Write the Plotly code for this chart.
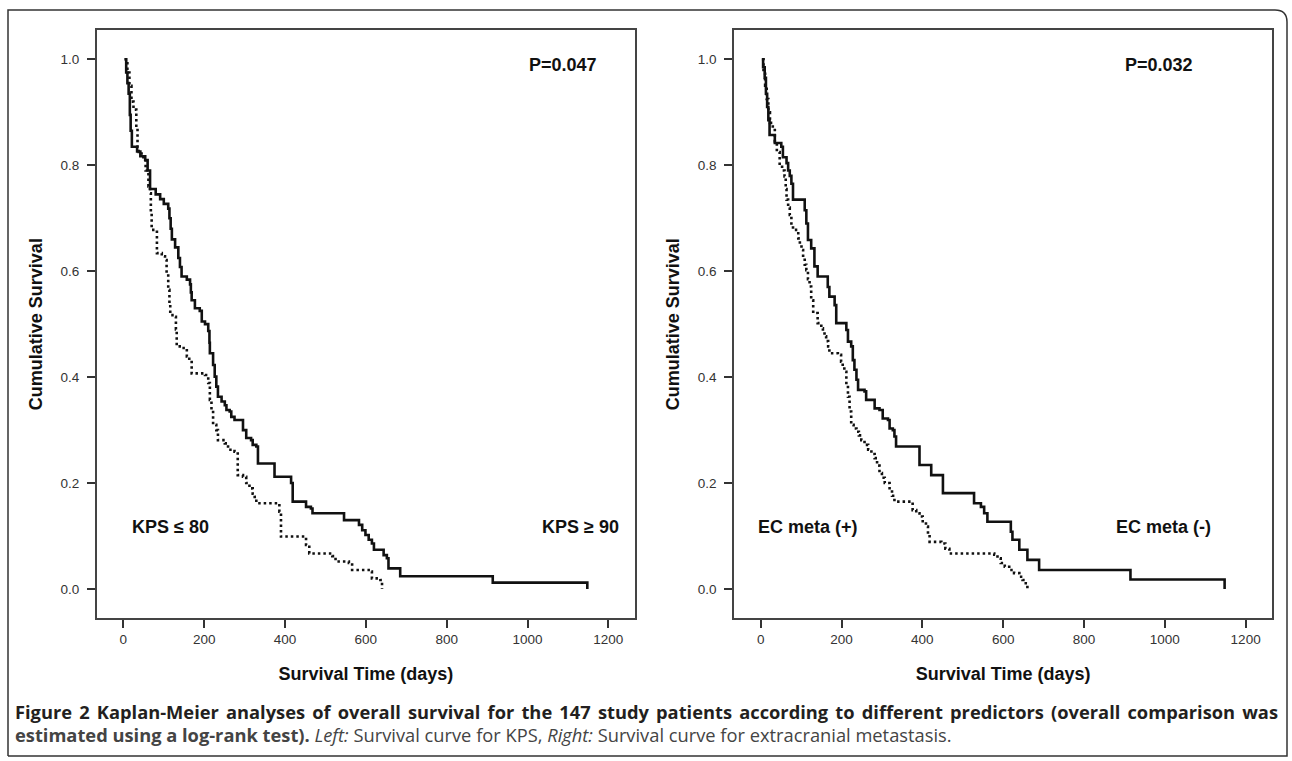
import plotly.graph_objects as go

# ---------------- data ----------------
kps90_t = [3, 7, 10, 13, 16, 18, 21, 34, 42, 54, 60, 66, 80, 91, 100, 111, 114, 117, 120, 128, 136, 140, 144,
           157, 165, 167, 169, 177, 189, 194, 202, 210, 213, 214, 222, 226, 230, 234, 243, 251, 255, 263, 267,
           275, 296, 304, 316, 320, 329, 333, 374, 415, 419, 452, 464, 468, 546, 583, 591, 599, 607, 615, 620,
           644, 652, 656, 685, 914, 1148]
kps90_s = [1.0, 0.975, 0.955, 0.935, 0.895, 0.865, 0.835, 0.826, 0.817, 0.810, 0.790, 0.755, 0.745, 0.736,
           0.727, 0.718, 0.700, 0.680, 0.660, 0.645, 0.625, 0.608, 0.590, 0.584, 0.575, 0.560, 0.545, 0.530,
           0.525, 0.505, 0.500, 0.487, 0.465, 0.445, 0.423, 0.401, 0.382, 0.363, 0.354, 0.347, 0.338, 0.335,
           0.325, 0.319, 0.300, 0.285, 0.281, 0.272, 0.269, 0.237, 0.212, 0.200, 0.165, 0.155, 0.152, 0.143,
           0.130, 0.121, 0.111, 0.102, 0.093, 0.086, 0.074, 0.064, 0.058, 0.039, 0.024, 0.012, 0.0]

kps80_t = [3, 10, 15, 20, 25, 32, 35, 38, 45, 55, 62, 66, 68, 70, 83, 95, 103, 107, 111, 114, 116, 128, 130,
           132, 144, 157, 163, 169, 202, 210, 214, 218, 222, 230, 234, 251, 259, 275, 283, 296, 304, 312, 320,
           325, 329, 386, 390, 452, 460, 517, 525, 558, 566, 611, 615, 636, 640]
kps80_s = [1.0, 0.975, 0.950, 0.920, 0.905, 0.870, 0.835, 0.825, 0.815, 0.790, 0.760, 0.747, 0.710, 0.678,
           0.634, 0.628, 0.621, 0.595, 0.565, 0.540, 0.517, 0.514, 0.490, 0.458, 0.455, 0.439, 0.432, 0.407,
           0.404, 0.389, 0.357, 0.338, 0.310, 0.300, 0.281, 0.275, 0.263, 0.259, 0.215, 0.212, 0.200, 0.190,
           0.180, 0.174, 0.162, 0.146, 0.099, 0.083, 0.067, 0.062, 0.052, 0.049, 0.036, 0.033, 0.020, 0.017, 0.0]

ecneg_t = [3, 6, 10, 13, 16, 19, 22, 35, 51, 55, 64, 68, 72, 76, 80, 109, 113, 117, 125, 133, 141, 166, 170,
           183, 187, 212, 216, 224, 228, 232, 237, 241, 257, 261, 282, 294, 302, 315, 319, 327, 331, 335, 393,
           422, 451, 528, 545, 553, 561, 619, 623, 640, 660, 689, 915, 1148]
ecneg_s = [1.0, 0.985, 0.965, 0.935, 0.910, 0.885, 0.857, 0.842, 0.835, 0.815, 0.804, 0.790, 0.780, 0.765,
           0.735, 0.715, 0.690, 0.659, 0.643, 0.609, 0.590, 0.570, 0.552, 0.536, 0.502, 0.489, 0.467, 0.458,
           0.432, 0.414, 0.395, 0.376, 0.373, 0.357, 0.341, 0.338, 0.322, 0.319, 0.303, 0.300, 0.288, 0.269,
           0.234, 0.215, 0.181, 0.162, 0.155, 0.143, 0.127, 0.108, 0.093, 0.074, 0.055, 0.036, 0.018, 0.0]

ecpos_t = [3, 7, 11, 15, 19, 23, 30, 35, 40, 47, 53, 59, 62, 64, 68, 72, 76, 80, 93, 97, 101, 105, 109, 113,
           117, 121, 125, 130, 141, 150, 154, 158, 162, 167, 170, 191, 199, 203, 207, 212, 216, 220, 224, 230,
           237, 243, 249, 257, 266, 274, 282, 288, 294, 300, 307, 319, 325, 331, 376, 385, 393, 401, 409, 414,
           418, 447, 457, 467, 578, 586, 594, 604, 615, 627, 640, 648, 656, 660]
ecpos_s = [1.0, 0.975, 0.950, 0.925, 0.900, 0.880, 0.870, 0.845, 0.825, 0.800, 0.790, 0.779, 0.755, 0.735,
           0.720, 0.706, 0.690, 0.678, 0.662, 0.650, 0.640, 0.625, 0.612, 0.602, 0.585, 0.571, 0.545, 0.521,
           0.502, 0.492, 0.485, 0.477, 0.468, 0.458, 0.445, 0.442, 0.429, 0.420, 0.410, 0.385, 0.363, 0.335,
           0.310, 0.303, 0.297, 0.290, 0.281, 0.272, 0.263, 0.255, 0.247, 0.233, 0.219, 0.210, 0.200, 0.187,
           0.176, 0.165, 0.149, 0.143, 0.137, 0.128, 0.118, 0.104, 0.089, 0.086, 0.076, 0.067, 0.065, 0.058,
           0.049, 0.042, 0.036, 0.030, 0.023, 0.017, 0.011, 0.0]

x_ticks = [0, 200, 400, 600, 800, 1000, 1200]
y_ticks = [0.0, 0.2, 0.4, 0.6, 0.8, 1.0]
y_tick_text = ["0.0", "0.2", "0.4", "0.6", "0.8", "1.0"]

p_left, p_right = "P=0.047", "P=0.032"
lab_left = ["KPS \u2264 80", "KPS \u2265 90"]
lab_right = ["EC meta (+)", "EC meta (-)"]
y_title = "Cumulative Survival"
x_title = "Survival Time (days)"
caption1 = ("<b>Figure 2 Kaplan-Meier analyses of overall survival for the 147 study patients according to "
            "different predictors (overall comparison was</b>")
caption2 = ("<b>estimated using a log-rank test).</b> <i>Left:</i> Survival curve for KPS, "
            "<i>Right:</i> Survival curve for extracranial metastasis.")

# ---------------- figure ----------------
W, H = 1292, 761
def px(x): return x / W
def py(y): return 1 - y / H

AX = "Liberation Sans, Arial, sans-serif"
fig = go.Figure()
line_solid = dict(color="#111111", width=2.6, shape="hv")
line_dot = dict(color="#111111", width=2.6, shape="hv", dash="2.5px,3px")

fig.add_trace(go.Scatter(x=kps80_t, y=kps80_s, mode="lines", line=line_dot, xaxis="x", yaxis="y"))
fig.add_trace(go.Scatter(x=kps90_t, y=kps90_s, mode="lines", line=line_solid, xaxis="x", yaxis="y"))
fig.add_trace(go.Scatter(x=ecpos_t, y=ecpos_s, mode="lines", line=line_dot, xaxis="x2", yaxis="y2"))
fig.add_trace(go.Scatter(x=ecneg_t, y=ecneg_s, mode="lines", line=line_solid, xaxis="x2", yaxis="y2"))

xr = [-66, 1266]
yr = [-0.0553, 1.0553]
ydom = [py(618.3), py(30)]
tick_font = dict(family=AX, size=13.5, color="#333")
title_font = dict(family=AX, size=18, color="#111")
common_x = dict(range=xr, tickvals=x_ticks, ticks="outside", ticklen=8, tickwidth=1.5, tickcolor="#333",
                showline=True, linecolor="#444", linewidth=1.5, mirror=True, showgrid=False, zeroline=False,
                tickfont=tick_font,
                title=dict(text="<b>" + x_title + "</b>", font=title_font, standoff=21))
common_y = dict(range=yr, tickvals=y_ticks, ticktext=y_tick_text, ticks="outside", ticklen=8, tickwidth=1.5,
                tickcolor="#333", showline=True, linecolor="#444", linewidth=1.5, mirror=True, showgrid=False,
                zeroline=False, tickfont=tick_font, ticklabelstandoff=5,
                title=dict(text="<b>" + y_title + "</b>", font=title_font, standoff=13))

fig.update_layout(
    width=W, height=H, autosize=False, margin=dict(l=0, r=0, t=0, b=0),
    paper_bgcolor="white", plot_bgcolor="white", showlegend=False,
    xaxis=dict(domain=[px(96.7), px(635)], anchor="y", **common_x),
    yaxis=dict(domain=ydom, anchor="x", **common_y),
    xaxis2=dict(domain=[px(734), px(1272.3)], anchor="y2", **common_x),
    yaxis2=dict(domain=ydom, anchor="x2", **common_y),
)

lab_font = dict(family=AX, size=18, color="#111")
ann = []
for xa, ya, p, labs, px_, lx in [("x", "y", p_left, lab_left, 1087, (117, 1130)),
                                 ("x2", "y2", p_right, lab_right, 985, (118, 997))]:
    ann.append(dict(xref=xa, yref=ya, x=px_, y=0.99, text="<b>" + p + "</b>", showarrow=False, font=lab_font))
    ann.append(dict(xref=xa, yref=ya, x=lx[0], y=0.118, text="<b>" + labs[0] + "</b>", showarrow=False, font=lab_font))
    ann.append(dict(xref=xa, yref=ya, x=lx[1], y=0.118, text="<b>" + labs[1] + "</b>", showarrow=False, font=lab_font))

cap_font = dict(family="Open Sans, sans-serif", size=18.3, color="#231f20")
ann.append(dict(xref="paper", yref="paper", x=px(13), y=py(711), xanchor="left", yanchor="middle", align="left",
                text=caption1, showarrow=False, font=cap_font))
ann.append(dict(xref="paper", yref="paper", x=px(13), y=py(734), xanchor="left", yanchor="middle", align="left",
                text=caption2, showarrow=False, font=dict(family="Open Sans, sans-serif", size=18.3, color="#444")))
fig.update_layout(annotations=ann)

# outer frame with rounded top-right corner
L, T, R, B, r = 8, 10, 1287, 756, 12
path = (f"M {px(L)},{py(B)} L {px(L)},{py(T)} L {px(R - r)},{py(T)} "
        f"Q {px(R)},{py(T)} {px(R)},{py(T + r)} L {px(R)},{py(B)} L {px(L)},{py(B)}")
fig.add_shape(type="path", xref="paper", yref="paper", path=path, line=dict(color="#333", width=1.5))

post = """
document.body.style.margin = '0';
var gd = document.getElementById('{plot_id}');
gd.querySelectorAll('text.annotation-text').forEach(function(el){
  if (el.textContent.indexOf('Figure 2') === 0) {
    el.style.wordSpacing = '0px';
    var w = el.getBBox().width;
    var n = (el.textContent.match(/[ \\u00a0]/g) || []).length;
    if (n > 0) { el.style.wordSpacing = ((1263 - w) / n) + 'px'; }
  }
});
"""
fig.write_html("out.html", post_script=post, config={"displayModeBar": False})
